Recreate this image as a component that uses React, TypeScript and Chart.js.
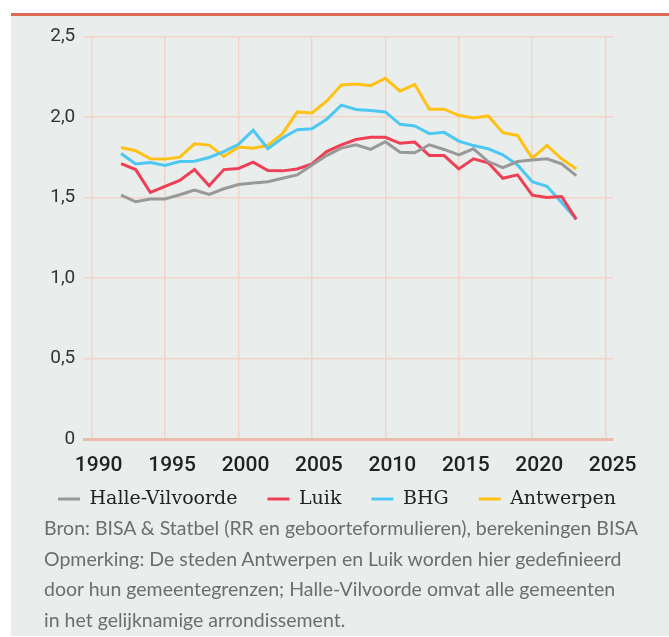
import React, { useEffect, useRef } from 'react';
import { Chart, registerables } from 'chart.js';

Chart.register(...registerables);

const years = [
  1992, 1993, 1994, 1995, 1996, 1997, 1998, 1999, 2000, 2001, 2002, 2003, 2004, 2005, 2006, 2007,
  2008, 2009, 2010, 2011, 2012, 2013, 2014, 2015, 2016, 2017, 2018, 2019, 2020, 2021, 2022, 2023,
];

const halleVilvoorde = [
  1.514, 1.473, 1.49, 1.49, 1.517, 1.546, 1.519, 1.554, 1.58, 1.59, 1.598, 1.619, 1.64, 1.702, 1.76, 1.806,
  1.827, 1.798, 1.846, 1.781, 1.777, 1.827, 1.798, 1.764, 1.802, 1.723, 1.685, 1.723, 1.733, 1.74, 1.708, 1.635,
];
const luik = [
  1.71, 1.673, 1.531, 1.569, 1.606, 1.673, 1.573, 1.673, 1.68, 1.719, 1.667, 1.665, 1.677, 1.708, 1.785, 1.827,
  1.86, 1.873, 1.873, 1.836, 1.844, 1.76, 1.76, 1.677, 1.74, 1.715, 1.619, 1.64, 1.514, 1.5, 1.506, 1.364,
];
const bhg = [
  1.773, 1.708, 1.717, 1.698, 1.723, 1.725, 1.748, 1.785, 1.83, 1.917, 1.802, 1.869, 1.921, 1.927, 1.985, 2.073,
  2.046, 2.04, 2.031, 1.954, 1.944, 1.896, 1.904, 1.85, 1.822, 1.802, 1.765, 1.702, 1.598, 1.569, 1.469, 1.364,
];
const antwerpen = [
  1.81, 1.79, 1.74, 1.738, 1.75, 1.833, 1.825, 1.754, 1.813, 1.806, 1.823, 1.896, 2.031, 2.025, 2.098, 2.198,
  2.205, 2.194, 2.24, 2.16, 2.202, 2.048, 2.048, 2.01, 1.994, 2.006, 1.902, 1.885, 1.744, 1.823, 1.74, 1.677,
];

const seriesNames = ['Halle-Vilvoorde', 'Luik', 'BHG', 'Antwerpen'];
const seriesValues = [halleVilvoorde, luik, bhg, antwerpen];
const seriesColors = ['#999999', '#ee3f55', '#4dc8f2', '#ffc114'];

const xTicks = [1990, 1995, 2000, 2005, 2010, 2015, 2020, 2025];
const yTicks = [0, 0.5, 1, 1.5, 2, 2.5];

const footerLines = [
  'Bron: BISA & Statbel (RR en geboorteformulieren), berekeningen BISA',
  'Opmerking: De steden Antwerpen en Luik worden hier gedefinieerd',
  'door hun gemeentegrenzen; Halle-Vilvoorde omvat alle gemeenten',
  'in het gelijknamige arrondissement.',
];

const gridColor = '#f2d3c7';

// moves the legend up so that it sits closer to the x-axis labels
const legendShift = {
  id: 'legendShift',
  afterLayout(chart: any) {
    const l = chart.legend;
    if (l) {
      l.top -= 19.4;
      l.bottom -= 19.4;
    }
  },
};

export default function App() {
  const canvasRef = useRef<HTMLCanvasElement | null>(null);

  useEffect(() => {
    const canvas = canvasRef.current;
    if (!canvas) return;
    const chart = new Chart(canvas, {
      type: 'line',
      data: {
        datasets: seriesNames.map((name, i) => ({
          label: name,
          data: years.map((yr, j) => ({ x: yr, y: seriesValues[i][j] })),
          borderColor: seriesColors[i],
          backgroundColor: seriesColors[i],
          borderWidth: 3,
          pointRadius: 0,
          tension: 0,
          fill: false,
        })),
      },
      plugins: [legendShift],
      options: {
        responsive: false,
        animation: false,
        layout: { padding: { top: 19, right: 6, bottom: 0, left: 0 } },
        plugins: {
          tooltip: { enabled: false },
          legend: {
            position: 'bottom',
            labels: {
              boxWidth: 22,
              boxHeight: 3,
              padding: 30,
              color: '#222222',
              font: { family: "'DejaVu Serif'", size: 19 },
              generateLabels: (c: any) =>
                Chart.defaults.plugins.legend.labels
                  .generateLabels(c)
                  .map((l: any) => ({ ...l, lineWidth: 0 })),
            },
          },
        },
        scales: {
          x: {
            type: 'linear',
            min: 1989.5,
            max: 2025.5,
            afterBuildTicks: (s: any) => {
              s.ticks = xTicks.map((v) => ({ value: v }));
            },
            afterFit: (s: any) => {
              s.height = 40;
            },
            grid: { color: gridColor, lineWidth: 1.5, drawTicks: false },
            border: { display: true, color: '#ebbcab', width: 3 },
            ticks: {
              callback: (v: any) => String(v),
              font: { family: 'Roboto', size: 21, weight: 500 },
              color: '#222222',
              padding: 14,
              labelOffset: 7,
              maxRotation: 0,
              autoSkip: false,
            },
          },
          y: {
            min: 0,
            max: 2.5,
            afterBuildTicks: (s: any) => {
              s.ticks = yTicks.map((v) => ({ value: v }));
            },
            afterFit: (s: any) => {
              s.width = 73.3;
            },
            grid: { color: gridColor, lineWidth: 1.5, drawTicks: false },
            border: { display: false },
            ticks: {
              callback: (v: any) => (v === 0 ? '0' : Number(v).toFixed(1).replace('.', ',')),
              font: { family: 'Roboto', size: 19 },
              color: '#333333',
              padding: 9,
            },
          },
          yRight: {
            position: 'right',
            display: true,
            grid: { display: false },
            border: { display: false },
            ticks: { display: false },
            afterFit: (s: any) => {
              s.width = 50;
            },
          },
        },
      } as any,
    });
    return () => chart.destroy();
  }, []);

  return (
    <div
      style={{
        position: 'absolute',
        left: 11,
        top: 13,
        width: 658,
        height: 620,
        background: '#e9eeec',
        borderTop: '3px solid #dc6a55',
      }}
    >
      <canvas ref={canvasRef} width={658} height={522} style={{ display: 'block' }} />
      <div
        style={{
          position: 'absolute',
          left: 33,
          top: 497,
          fontFamily: 'Lato, sans-serif',
          fontSize: 19.5,
          lineHeight: '30.5px',
          color: '#6d6d6d',
          whiteSpace: 'nowrap',
        }}
      >
        {footerLines.map((t, i) => (
          <div key={i}>{t}</div>
        ))}
      </div>
    </div>
  );
}
